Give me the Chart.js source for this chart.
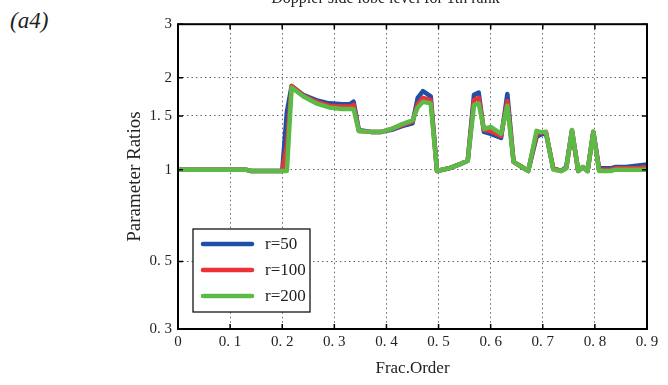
<!DOCTYPE html>
<html>
<head>
<meta charset="utf-8">
<script src="https://cdn.jsdelivr.net/npm/chart.js@4"></script>
<style>
  html, body { margin: 0; padding: 0; background: #fff; overflow: hidden; }
  #wrap { position: relative; width: 668px; height: 385px; overflow: hidden; }
  #wrap canvas { position: absolute; left: 0; top: -14px; }
  #tag { position: absolute; left: 10px; top: 8px; font: italic 23px "Liberation Serif", serif; color: #222; }
</style>
</head>
<body>
<div id="wrap">
  <div id="tag">(a4)</div>
  <canvas id="chart" width="668" height="399"></canvas>
</div>
<script>
// x positions (fractional order)
const fracOrder = [0, 0.05, 0.1, 0.13, 0.14, 0.2, 0.209, 0.218, 0.24, 0.265, 0.29, 0.315, 0.33, 0.337, 0.347,
  0.37, 0.39, 0.41, 0.43, 0.45, 0.46, 0.47, 0.485, 0.497, 0.52, 0.54, 0.556, 0.568, 0.577, 0.587, 0.6,
  0.62, 0.632, 0.644, 0.66, 0.672, 0.688, 0.695, 0.706, 0.72, 0.735, 0.745, 0.756, 0.768, 0.777, 0.786,
  0.797, 0.808, 0.83, 0.84, 0.86, 0.88, 0.9];

const r50 = [1.0, 1.0, 1.0, 1.0, 0.99, 0.99, 1.55, 1.88, 1.76, 1.69, 1.65, 1.64, 1.64, 1.67, 1.35,
  1.33, 1.33, 1.35, 1.39, 1.42, 1.72, 1.81, 1.74, 0.99, 1.01, 1.04, 1.07, 1.76, 1.79, 1.33, 1.31,
  1.27, 1.77, 1.06, 1.02, 0.99, 1.28, 1.30, 1.32, 1.01, 0.99, 1.02, 1.34, 0.99, 1.02, 0.99,
  1.33, 1.01, 1.01, 1.02, 1.02, 1.03, 1.04];

const r100 = [1.0, 1.0, 1.0, 1.0, 0.99, 0.99, 1.2, 1.88, 1.75, 1.67, 1.62, 1.61, 1.61, 1.63, 1.34,
  1.33, 1.33, 1.36, 1.40, 1.44, 1.64, 1.72, 1.69, 0.99, 1.01, 1.04, 1.07, 1.69, 1.72, 1.35, 1.34,
  1.29, 1.68, 1.06, 1.02, 0.99, 1.31, 1.32, 1.33, 1.01, 0.99, 1.01, 1.34, 0.99, 1.02, 0.99,
  1.33, 1.0, 1.0, 1.01, 1.01, 1.01, 1.02];

const r200 = [1.0, 1.0, 1.0, 1.0, 0.99, 0.99, 0.99, 1.86, 1.74, 1.65, 1.60, 1.58, 1.58, 1.58, 1.34,
  1.33, 1.33, 1.36, 1.41, 1.45, 1.60, 1.67, 1.65, 0.99, 1.01, 1.04, 1.07, 1.63, 1.65, 1.36, 1.38,
  1.31, 1.62, 1.06, 1.02, 0.99, 1.34, 1.33, 1.33, 1.0, 0.99, 1.01, 1.35, 0.99, 1.02, 0.99,
  1.33, 0.99, 0.99, 1.0, 1.0, 1.0, 1.0];

const seriesLabels = ['r=50', 'r=100', 'r=200'];
const seriesColors = ['#1f4fa6', '#ec3237', '#5cba47'];
const yTickValues = [0.3, 0.5, 1, 1.5, 2, 3];

const serif = '"Liberation Serif", "DejaVu Serif", serif';

function fmt(v) {
  if (Number.isInteger(v)) return String(v);
  return v.toFixed(1).replace('.', '. ');
}

function pts(arr) {
  return fracOrder.map((x, i) => ({ x: x, y: arr[i] }));
}

// box around the plot, inward tick marks and the legend inside the plot
const framePlugin = {
  id: 'frame',
  afterDraw(chart) {
    const { ctx, chartArea: a, scales } = chart;
    ctx.save();
    ctx.strokeStyle = '#000';
    ctx.lineWidth = 1.5;
    // inward ticks
    scales.x.ticks.forEach(t => {
      const px = scales.x.getPixelForValue(t.value);
      ctx.beginPath();
      ctx.moveTo(px, a.bottom); ctx.lineTo(px, a.bottom - 5);
      ctx.moveTo(px, a.top); ctx.lineTo(px, a.top + 5);
      ctx.stroke();
    });
    scales.y.ticks.forEach(t => {
      const py = scales.y.getPixelForValue(t.value);
      ctx.beginPath();
      ctx.moveTo(a.left, py); ctx.lineTo(a.left + 5, py);
      ctx.moveTo(a.right, py); ctx.lineTo(a.right - 5, py);
      ctx.stroke();
    });
    ctx.lineWidth = 2;
    ctx.strokeRect(a.left, a.top, a.right - a.left, a.bottom - a.top);

    // legend
    const bx = a.left + 15, by = a.bottom - 100, bw = 117, bh = 83;
    ctx.fillStyle = '#fff';
    ctx.fillRect(bx, by, bw, bh);
    ctx.lineWidth = 1.2;
    ctx.strokeRect(bx, by, bw, bh);
    ctx.font = '17px ' + serif;
    ctx.textBaseline = 'middle';
    ctx.lineCap = 'round';
    chart.data.datasets.forEach((ds, i) => {
      const ly = by + 15 + i * 26;
      ctx.strokeStyle = ds.borderColor;
      ctx.lineWidth = 4.5;
      ctx.beginPath();
      ctx.moveTo(bx + 10, ly); ctx.lineTo(bx + 59, ly);
      ctx.stroke();
      ctx.fillStyle = '#222';
      ctx.fillText(ds.label, bx + 72, ly + 1);
    });
    ctx.restore();
  }
};

const ctx = document.getElementById('chart').getContext('2d');
const chart = new Chart(ctx, {
  type: 'line',
  data: {
    datasets: seriesLabels.map((lab, i) => ({
      label: lab,
      data: pts([r50, r100, r200][i]),
      borderColor: seriesColors[i],
      backgroundColor: seriesColors[i],
      borderWidth: 4.5,
      borderJoinStyle: 'round',
      borderCapStyle: 'round',
      pointRadius: 0,
      tension: 0,
      order: 3 - i,
    })),
  },
  options: {
    responsive: false,
    animation: false,
    layout: { padding: { left: 124, right: 21, top: 0, bottom: 6 } },
    plugins: {
      legend: { display: false },
      tooltip: { enabled: false },
      title: {
        display: true,
        text: 'Doppler side lobe level for 1th rank',
        color: '#222',
        font: { family: serif, size: 16, weight: 'normal' },
        padding: { top: 3, bottom: 16 },
      },
    },
    scales: {
      x: {
        type: 'linear',
        min: 0,
        max: 0.9,
        ticks: {
          stepSize: 0.1,
          color: '#222',
          font: { family: serif, size: 15 },
          padding: 4,
          maxRotation: 0,
          callback: v => fmt(Math.round(v * 10) / 10),
        },
        grid: { color: '#666', lineWidth: 1, drawTicks: false, tickLength: 0 },
        border: { display: false, dash: [1.5, 3] },
        title: {
          display: true,
          text: 'Frac.Order',
          color: '#222',
          font: { family: serif, size: 17 },
          padding: { top: 2, bottom: 0 },
        },
        afterFit(scale) { scale.height = 50; },
      },
      y: {
        type: 'logarithmic',
        min: 0.3,
        max: 3,
        afterBuildTicks(scale) {
          scale.ticks = yTickValues.map(v => ({ value: v }));
        },
        ticks: {
          color: '#222',
          font: { family: serif, size: 15 },
          padding: 6,
          autoSkip: false,
          callback: v => fmt(v),
        },
        grid: { color: '#666', lineWidth: 1, drawTicks: false, tickLength: 0 },
        border: { display: false, dash: [1.5, 3] },
        title: {
          display: true,
          text: 'Parameter Ratios',
          color: '#222',
          font: { family: serif, size: 19 },
          padding: { top: 0, bottom: 0 },
        },
        afterFit(scale) { scale.width = 54; },
      },
    },
  },
  plugins: [framePlugin],
});
</script>
</body>
</html>
